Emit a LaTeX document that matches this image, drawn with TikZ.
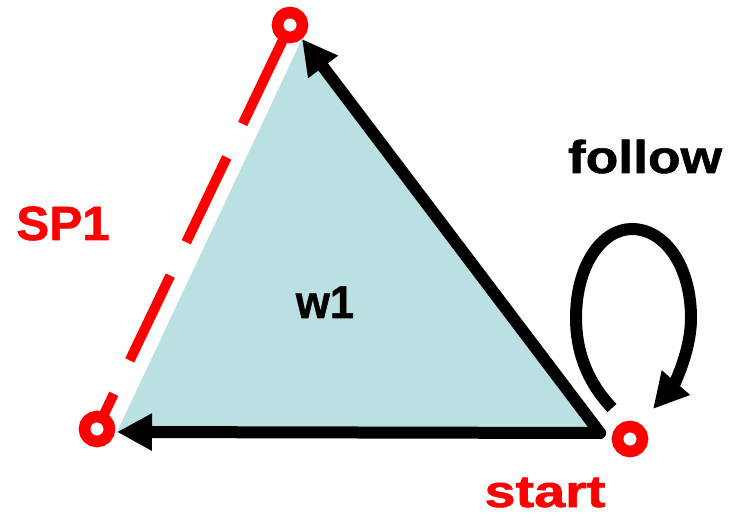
\documentclass[tikz,border=0pt]{standalone}
\usepackage{fontspec}
\setmainfont{Liberation Sans}
\newfontfamily\heavyfont[FakeBold=1.2]{Liberation Sans Bold}
\usetikzlibrary{arrows.meta}
\definecolor{triblue}{RGB}{187,224,227}
\definecolor{pred}{RGB}{255,0,0}
\tikzset{
  blackarrow/.style={line width=12pt, line cap=round, -{Triangle[length=35pt,width=35pt]}},
  redring/.style={circle, draw=pred, line width=11.6pt, fill=white, minimum size=25pt, inner sep=0pt},
  redlabel/.style={text=pred, font=\heavyfont, inner sep=0pt, anchor=base},
  blacklabel/.style={text=black, font=\heavyfont, inner sep=0pt, anchor=base},
  spdash/.style={draw=pred, line width=10pt, dash pattern=on 39pt off 37pt on 94pt off 37pt on 94pt off 37pt on 200pt off 0pt}
}
\begin{document}
\begin{tikzpicture}[x=1pt,y=-1pt]
\useasboundingbox (0,0) rectangle (733,518);
% triangle vertices
\coordinate (T) at (302,39);
\coordinate (L) at (117,432);
\coordinate (R) at (600,433);
% circle centres
\coordinate (pt) at (290,25);
\coordinate (pb) at (97,429);
\coordinate (ps) at (630,439);
% loop ends
\coordinate (lt) at (612,408);
\coordinate (lh) at (653,409);

\fill[triblue] (T) -- (L) -- (R) -- cycle;
\draw[spdash] (pb) -- (pt);
\draw[blackarrow] (R) -- (T);
\draw[blackarrow] (R) -- (L);
\draw[line width=12pt, -{Triangle[length=35pt,width=35pt]}]
  (lt) .. controls (590,385) and (576,355) .. (576,318)
       .. controls (576,265) and (602,229) .. (632,229)
       .. controls (664,229) and (691,265) .. (691,318)
       .. controls (691,352) and (673,386) .. (lh);

\node[redring] (ct) at (pt) {};
\node[redring] (cb) at (pb) {};
\node[redring] (cs) at (ps) {};

\node[redlabel] (sp) at (63,240) {\fontsize{48}{50}\selectfont\scalebox{1.03}[1]{SP1}};
\node[blacklabel] (w) at (325,318) {\fontsize{46}{48}\selectfont\scalebox{0.95}[1]{w1}};
\node[redlabel] (st) at (545,507) {\fontsize{45}{47}\selectfont\scalebox{1.24}[1]{start}};
\node[blacklabel] (fo) at (645,173) {\fontsize{46}{48}\selectfont\scalebox{1.16}[1]{follow}};
\end{tikzpicture}
\end{document}
